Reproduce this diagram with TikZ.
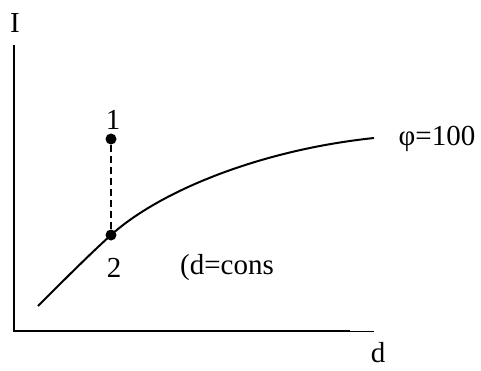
\documentclass[tikz,border=0pt]{standalone}
\usepackage{fontspec}
\setmainfont{Liberation Serif}
\begin{document}
\begin{tikzpicture}[x=1pt,y=-1pt,
  axis/.style={line width=2pt},
  curve/.style={line width=2pt},
  lbl/.style={font=\fontsize{29}{34}\selectfont, inner sep=0pt},
  dot/.style={circle, fill=black, minimum size=11pt, inner sep=0pt}]
\useasboundingbox (0,0) rectangle (481,370);
% axes
\coordinate (top) at (14,45);
\coordinate (origin) at (14,331);
\coordinate (xend) at (350,331);
\coordinate (xfar) at (374,331);
\draw[axis] (top) -- (origin) -- (xend);
\draw[line width=0.8pt] (xend) -- (xfar);
\node[lbl] (ilbl) at (15,23) {I};
\node[lbl, anchor=base] (dlbl) at (378,362) {d};
% curve
\coordinate (c0) at (38,306);
\node[dot] (p2) at (111,235) {};
\node[dot] (p1) at (111,139) {};
\coordinate (c1) at (374,138);
\draw[curve] (c0) .. controls (65,279) and (90,254) .. (p2.center)
  .. controls (160,191) and (260,150) .. (c1);
\draw[curve, dash pattern=on 7pt off 4pt] (p1) -- (p2);
\node[lbl] (l1) at (113,120) {1};
\node[lbl] (l2) at (114,268) {2};
\node[lbl] (cons) at (227,268) {(d=cons};
\node[lbl] (phi) at (437,139) {φ=100};
\end{tikzpicture}
\end{document}
